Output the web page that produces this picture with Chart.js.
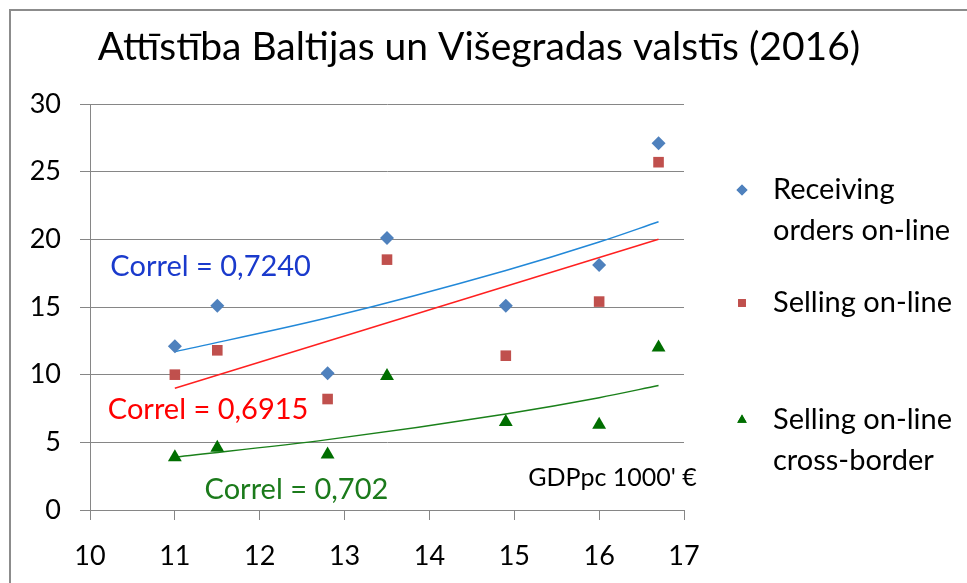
<!DOCTYPE html>
<html>
<head>
<meta charset="utf-8">
<script src="https://cdn.jsdelivr.net/npm/chart.js@4.4.0/dist/chart.umd.min.js"></script>
<style>
  html, body { margin: 0; padding: 0; background: #fff; }
  canvas { display: block; }
</style>
</head>
<body>
<canvas id="chart" width="967" height="583"></canvas>
<script>
// GDP per capita (1000 EUR) for the 7 countries
const gdp = [11, 11.5, 12.8, 13.5, 14.9, 16, 16.7];
const receivingOrders = [12.1, 15.1, 10.1, 20.1, 15.1, 18.1, 27.1];
const sellingOnline = [10.0, 11.8, 8.2, 18.5, 11.4, 15.4, 25.7];
const sellingCrossBorder = [3.9, 4.6, 4.1, 9.9, 6.5, 6.3, 12.0];

// trend lines
const trendX = [11, 12.8, 14.9, 16, 16.7];
const receivingTrend = [11.7, 14.2, 17.7, 19.8, 21.3];
const sellingTrendX = [11, 16.7];
const sellingTrend = [9.0, 20.0];
const crossTrend = [3.9, 5.2, 7.1, 8.3, 9.2];

const chartTitle = 'Attīstība Baltijas un Višegradas valstīs (2016)';
const legendLabels = [['Receiving', 'orders on-line'], ['Selling on-line'], ['Selling on-line', 'cross-border']];
const correlNotes = [
    { text: 'Correl = 0,7240', x: 10.24, y: 18.0, color: '#1a3acc' },
    { text: 'Correl = 0,6915', x: 10.21, y: 7.4, color: '#ff0000' },
    { text: 'Correl = 0,702', x: 11.35, y: 1.5, color: '#1b7a1b' }
];

const FONT = 'Lato, "Open Sans", sans-serif';
const GRID = '#868686';

function pts(xs, ys) {
    return xs.map((x, i) => ({ x: x, y: ys[i] }));
}

// frame, title, legend and text notes drawn straight on the canvas
const notesPlugin = {
    id: 'notes',
    beforeDraw(chart) {
        const ctx = chart.ctx;
        ctx.save();
        ctx.fillStyle = '#fff';
        ctx.fillRect(0, 0, chart.width, chart.height);
        ctx.strokeStyle = '#8c8c8c';
        ctx.lineWidth = 2;
        ctx.beginPath();
        ctx.moveTo(10, chart.height);
        ctx.lineTo(10, 10);
        ctx.lineTo(chart.width, 10);
        ctx.stroke();
        ctx.restore();
    },
    afterDraw(chart) {
        const ctx = chart.ctx;
        const xs = chart.scales.x, ys = chart.scales.y;
        ctx.save();
        ctx.textBaseline = 'middle';

        ctx.font = '39px ' + FONT;
        ctx.fillStyle = '#000';
        ctx.textAlign = 'center';
        ctx.fillText(chartTitle, 479, 47);

        ctx.font = '29px ' + FONT;
        ctx.textAlign = 'left';
        correlNotes.forEach(n => {
            ctx.fillStyle = n.color;
            ctx.fillText(n.text, xs.getPixelForValue(n.x), ys.getPixelForValue(n.y));
        });
        ctx.font = '25px ' + FONT;
        ctx.fillStyle = '#000';
        ctx.textAlign = 'right';
        ctx.fillText("GDPpc 1000' €", xs.getPixelForValue(17.15), ys.getPixelForValue(2.4));

        // legend
        const rowY = [190, 303, 420];
        ctx.font = '29px ' + FONT;
        ctx.textAlign = 'left';
        legendLabels.forEach((lines, i) => {
            const ds = chart.data.datasets[i];
            ctx.fillStyle = ds.backgroundColor;
            Chart.helpers.drawPoint(ctx, {
                pointStyle: ds.pointStyle,
                radius: 5.5,
                rotation: 0,
                borderWidth: 0
            }, 742, rowY[i]);
            ctx.fill();
            ctx.fillStyle = '#000';
            lines.forEach((t, j) => ctx.fillText(t, 773, rowY[i] + j * 41));
        });
        ctx.restore();
    }
};

new Chart(document.getElementById('chart'), {
    type: 'scatter',
    data: {
        datasets: [{
            label: 'Receiving orders on-line',
            data: pts(gdp, receivingOrders),
            pointStyle: 'rectRot',
            pointRadius: 7,
            backgroundColor: '#4f81bd',
            borderColor: '#4f81bd',
            borderWidth: 0
        }, {
            label: 'Selling on-line',
            data: pts(gdp, sellingOnline),
            pointStyle: 'rect',
            pointRadius: 7.5,
            backgroundColor: '#c0504d',
            borderColor: '#c0504d',
            borderWidth: 0
        }, {
            label: 'Selling on-line cross-border',
            data: pts(gdp, sellingCrossBorder),
            pointStyle: 'triangle',
            pointRadius: 8,
            backgroundColor: '#006e00',
            borderColor: '#006e00',
            borderWidth: 0
        }, {
            type: 'line',
            data: pts(trendX, receivingTrend),
            borderColor: '#2288d8',
            borderWidth: 1.5,
            pointRadius: 0,
            cubicInterpolationMode: 'monotone',
            fill: false
        }, {
            type: 'line',
            data: pts(sellingTrendX, sellingTrend),
            borderColor: '#ff2020',
            borderWidth: 1.5,
            pointRadius: 0,
            fill: false
        }, {
            type: 'line',
            data: pts(trendX, crossTrend),
            borderColor: '#1a801a',
            borderWidth: 1.5,
            pointRadius: 0,
            cubicInterpolationMode: 'monotone',
            fill: false
        }]
    },
    options: {
        responsive: false,
        animation: false,
        layout: { padding: { left: 0, right: 283, top: 104, bottom: 0 } },
        plugins: {
            legend: { display: false },
            tooltip: { enabled: false },
            title: { display: false }
        },
        scales: {
            x: {
                type: 'linear',
                min: 10,
                max: 17,
                ticks: { stepSize: 1, color: '#000', padding: 20, font: { family: FONT, size: 27 } },
                grid: { drawOnChartArea: false, drawTicks: true, tickLength: 10, color: GRID },
                border: { color: GRID, width: 1 },
                afterFit(scale) { scale.height = 73; }
            },
            y: {
                min: 0,
                max: 30,
                ticks: { stepSize: 5, color: '#000', padding: 19, font: { family: FONT, size: 27 } },
                grid: { color: GRID, tickLength: 10 },
                border: { color: GRID, width: 1 },
                afterFit(scale) { scale.width = 90; }
            }
        }
    },
    plugins: [notesPlugin]
});
</script>
</body>
</html>
